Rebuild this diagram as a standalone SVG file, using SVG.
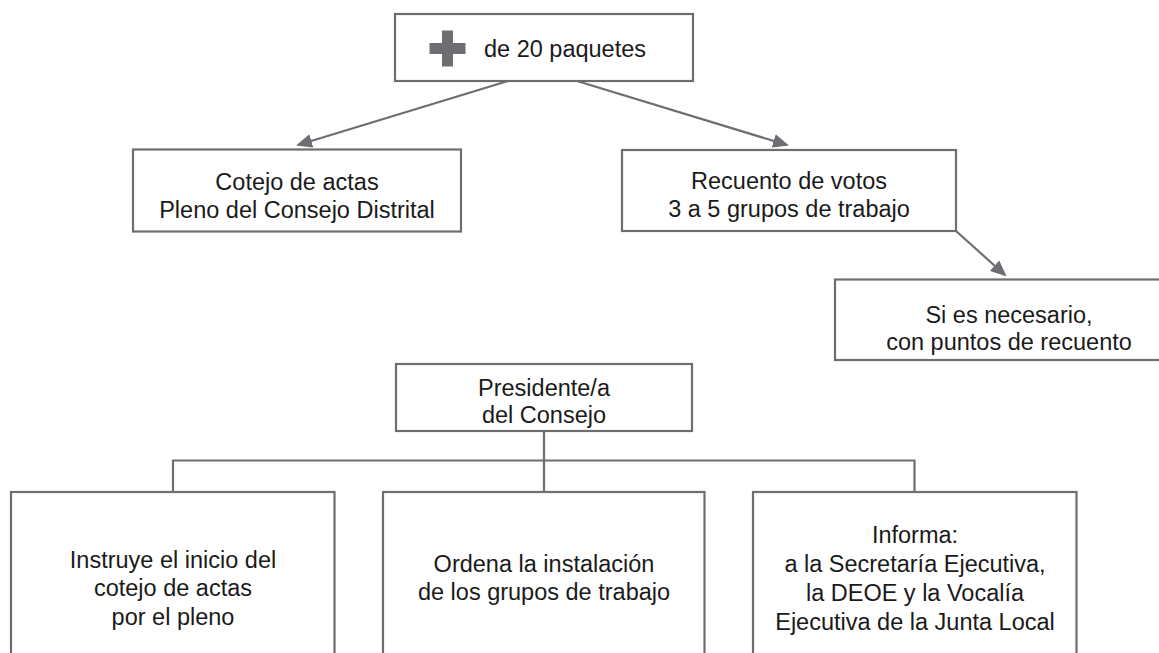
<svg xmlns="http://www.w3.org/2000/svg" width="1159" height="653" viewBox="0 0 1159 653">
<style>
.box{fill:#ffffff;stroke:#6d6e71;stroke-width:2.2}
.ln{fill:none;stroke:#6d6e71;stroke-width:2.2}
.t{font-family:"Liberation Sans",Arial,Helvetica,sans-serif;font-size:23.5px;fill:#1a1a1a;text-anchor:middle}
.icon{fill:#6d6e71}
</style>
<defs>
<marker id="ah" viewBox="0 0 16 14" refX="14" refY="7" markerWidth="16" markerHeight="14" markerUnits="userSpaceOnUse" orient="auto">
<path d="M0,0 L16,7 L0,14 z" fill="#6d6e71"/>
</marker>
</defs>
<rect width="1159" height="653" fill="#ffffff"/>
<g id="connectors">
<line class="ln" x1="508" y1="81" x2="298" y2="145" marker-end="url(#ah)"/>
<line class="ln" x1="577" y1="81" x2="787" y2="145" marker-end="url(#ah)"/>
<line class="ln" x1="956" y1="231" x2="1005" y2="275" marker-end="url(#ah)"/>
<polyline class="ln" points="544,431 544,492"/>
<polyline class="ln" points="173,492 173,460.5 914.5,460.5 914.5,492"/>
</g>
<g id="n-top">
<rect class="box" x="395" y="14" width="298" height="67"/>
<rect class="icon" x="429.5" y="43" width="36" height="11"/>
<rect class="icon" x="442" y="30.5" width="11" height="36"/>
<text class="t" x="484" y="57" style="text-anchor:start">de 20 paquetes</text>
</g>
<g id="n-cotejo">
<rect class="box" x="133" y="149.5" width="328" height="82"/>
<text class="t" x="297" y="190">Cotejo de actas</text>
<text class="t" x="297" y="217.5">Pleno del Consejo Distrital</text>
</g>
<g id="n-recuento">
<rect class="box" x="622" y="150" width="334" height="81"/>
<text class="t" x="789" y="189">Recuento de votos</text>
<text class="t" x="789" y="217">3 a 5 grupos de trabajo</text>
</g>
<g id="n-si">
<rect class="box" x="835" y="279.5" width="360" height="80.5"/>
<text class="t" x="1009" y="323">Si es necesario,</text>
<text class="t" x="1009" y="349.5">con puntos de recuento</text>
</g>
<g id="n-presidente">
<rect class="box" x="396" y="364" width="296" height="67"/>
<text class="t" x="544" y="395.5">Presidente/a</text>
<text class="t" x="544" y="422.5">del Consejo</text>
</g>
<g id="n-instruye">
<rect class="box" x="11" y="492" width="323.5" height="190"/>
<text class="t" x="173" y="567.5">Instruye el inicio del</text>
<text class="t" x="173" y="596">cotejo de actas</text>
<text class="t" x="173" y="624.5">por el pleno</text>
</g>
<g id="n-ordena">
<rect class="box" x="383" y="492" width="321.5" height="190"/>
<text class="t" x="544" y="571.5">Ordena la instalación</text>
<text class="t" x="544" y="600">de los grupos de trabajo</text>
</g>
<g id="n-informa">
<rect class="box" x="753" y="492" width="323.5" height="190"/>
<text class="t" x="915" y="543">Informa:</text>
<text class="t" x="915" y="572">a la Secretaría Ejecutiva,</text>
<text class="t" x="915" y="601">la DEOE y la Vocalía</text>
<text class="t" x="915" y="630">Ejecutiva de la Junta Local</text>
</g>
</svg>
